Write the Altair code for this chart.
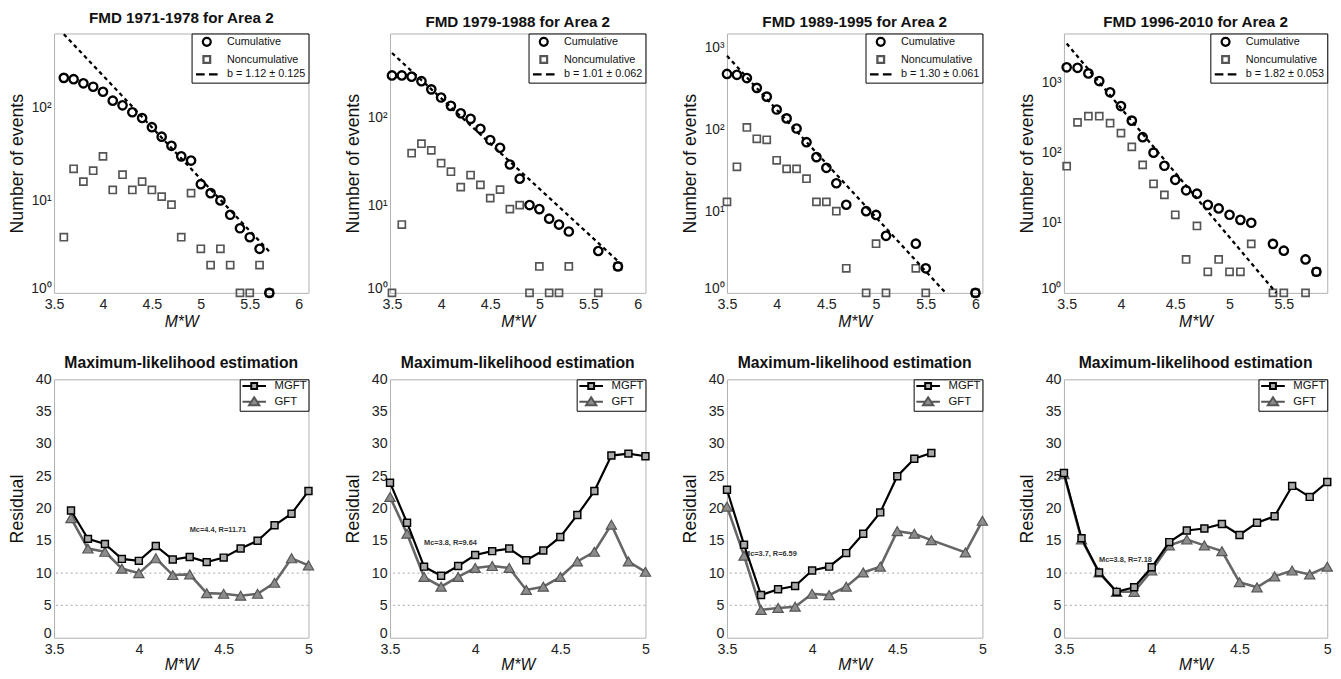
import altair as alt
import pandas as pd

FONT = "Liberation Sans"

# ---------------- top row: frequency-magnitude distributions ----------------
top_titles = ["FMD 1971-1978 for Area 2", "FMD 1979-1988 for Area 2",
              "FMD 1989-1995 for Area 2", "FMD 1996-2010 for Area 2"]
b_labels = ["b = 1.12 ± 0.125", "b = 1.01 ± 0.062", "b = 1.30 ± 0.061", "b = 1.82 ± 0.053"]

mag_1 = [3.6, 3.7, 3.8, 3.9, 4.0, 4.1, 4.2, 4.3, 4.4, 4.5, 4.6, 4.7, 4.8, 4.9, 5.0, 5.1, 5.2, 5.3, 5.4, 5.5, 5.6, 5.7]
cum_1 = [212, 205, 185, 170, 150, 120, 107, 90, 78, 62, 49, 39, 30, 27, 15, 12, 10, 7, 5, 4, 3, 1]
non_1 = [4, 22, 16, 21, 30, 13, 19, 13, 16, 13, 11, 9, 4, 12, 3, 2, 3, 2, 1, 1, 2, 1]
fit_m_1 = [3.6, 5.7]
fit_n_1 = [630, 2.8]

mag_2 = [3.5, 3.6, 3.7, 3.8, 3.9, 4.0, 4.1, 4.2, 4.3, 4.4, 4.5, 4.6, 4.7, 4.8, 4.9, 5.0, 5.1, 5.2, 5.3, 5.6, 5.8]
cum_2 = [300, 300, 290, 258, 208, 168, 135, 111, 96, 74, 55, 45, 29, 20, 10, 9, 7, 6, 5, 3, 2]
non_2 = [1, 6, 39, 50, 42, 30, 24, 16, 22, 17, 12, 15, 9, 10, 1, 2, 1, 1, 2, 1, 2]
fit_m_2 = [3.5, 5.8]
fit_n_2 = [540, 2.3]

mag_3 = [3.5, 3.6, 3.7, 3.8, 3.9, 4.0, 4.1, 4.2, 4.3, 4.4, 4.5, 4.6, 4.7, 4.9, 5.0, 5.1, 5.4, 5.5, 6.0]
cum_3 = [480, 468, 427, 324, 253, 176, 137, 103, 70, 46, 34, 22, 12, 10, 9, 5, 4, 2, 1]
non_3 = [13, 35, 106, 77, 75, 42, 33, 33, 25, 13, 13, 10, 2, 1, 4, 1, 2, 1, 1]
fit_m_3 = [3.5, 5.7]
fit_n_3 = [800, 1]

mag_4 = [3.5, 3.6, 3.7, 3.8, 3.9, 4.0, 4.1, 4.2, 4.3, 4.4, 4.5, 4.6, 4.7, 4.8, 4.9, 5.0, 5.1, 5.2, 5.4, 5.5, 5.7, 5.8]
cum_4 = [1650, 1620, 1350, 1050, 725, 462, 286, 166, 100, 65, 41, 29, 26, 18, 16, 13, 11, 10, 5, 4, 3, 2]
non_4 = [64, 270, 331, 331, 263, 190, 121, 67, 36, 25, 13, 3, 9, 2, 3, 2, 2, 5, 1, 1, 1, 2]
fit_m_4 = [3.5, 5.43]
fit_n_4 = [3600, 1]

top_x_domains = [[3.5, 6.1], [3.48, 6.08], [3.5, 6.07], [3.475, 5.9]]
top_y_domains = [[1, 640], [1, 900], [1, 1500], [1, 5000]]
top_x_ticks = [[3.5, 4, 4.5, 5, 5.5, 6]] * 3 + [[3.5, 4, 4.5, 5, 5.5]]
top_y_ticks = [[1, 10, 100], [1, 10, 100], [1, 10, 100, 1000], [1, 10, 100, 1000]]

# ---------------- bottom row: maximum-likelihood residuals ----------------
bottom_title = "Maximum-likelihood estimation"
ref_lines = [5, 10]

mag_m_5 = [3.6, 3.7, 3.8, 3.9, 4.0, 4.1, 4.2, 4.3, 4.4, 4.5, 4.6, 4.7, 4.8, 4.9, 5.0]
mgft_5 = [19.7, 15.3, 14.5, 12.2, 11.9, 14.2, 12.1, 12.5, 11.7, 12.4, 13.8, 15.0, 17.4, 19.2, 22.7]
mag_g_5 = mag_m_5
gft_5 = [18.5, 13.8, 13.3, 10.7, 10.0, 12.3, 9.7, 9.8, 6.9, 6.8, 6.5, 6.8, 8.5, 12.3, 11.2]

mag_m_6 = [3.5, 3.6, 3.7, 3.8, 3.9, 4.0, 4.1, 4.2, 4.3, 4.4, 4.5, 4.6, 4.7, 4.8, 4.9, 5.0]
mgft_6 = [24.0, 17.8, 11.0, 9.6, 11.1, 12.8, 13.4, 13.8, 12.0, 13.5, 15.6, 19.0, 22.7, 28.2, 28.5, 28.1]
mag_g_6 = mag_m_6
gft_6 = [21.8, 16.1, 9.4, 7.9, 9.4, 10.8, 11.1, 10.8, 7.4, 7.9, 9.4, 11.8, 13.3, 17.5, 11.8, 10.2]

mag_m_7 = [3.5, 3.6, 3.7, 3.8, 3.9, 4.0, 4.1, 4.2, 4.3, 4.4, 4.5, 4.6, 4.7]
mgft_7 = [22.9, 14.4, 6.6, 7.5, 8.0, 10.4, 11.0, 13.1, 16.1, 19.4, 25.0, 27.7, 28.6]
mag_g_7 = [3.5, 3.6, 3.7, 3.8, 3.9, 4.0, 4.1, 4.2, 4.3, 4.4, 4.5, 4.6, 4.7, 4.9, 5.0]
gft_7 = [20.3, 12.7, 4.3, 4.6, 4.8, 6.8, 6.6, 7.9, 10.1, 11.0, 16.5, 16.1, 15.1, 13.2, 18.1]

mag_m_8 = [3.5, 3.6, 3.7, 3.8, 3.9, 4.0, 4.1, 4.2, 4.3, 4.4, 4.5, 4.6, 4.7, 4.8, 4.9, 5.0]
mgft_8 = [25.5, 15.4, 10.1, 7.1, 7.8, 10.9, 14.8, 16.6, 16.9, 17.6, 15.9, 17.8, 18.8, 23.5, 21.8, 24.1]
mag_g_8 = mag_m_8
gft_8 = [25.3, 15.2, 10.1, 7.1, 7.1, 10.4, 14.3, 15.2, 14.3, 13.4, 8.6, 7.8, 9.5, 10.4, 9.8, 11.0]

notes = ["Mc=4.4, R=11.71", "Mc=3.8, R=9.64", "Mc=3.7, R=6.59", "Mc=3.8, R=7.18"]
note_x = [4.3, 3.7, 3.6, 3.7]
note_y = [16.7, 14.6, 12.9, 12.1]

col_widths = [259, 260, 260, 268]
TOP_H = 264
BOT_H = 263

# legend symbol paths (unit space; scaled by symbol size)
CIRCLE_P = "M1,0A1,1,0,1,1,-1,0A1,1,0,1,1,1,0Z"
SQUARE_P = "M-0.85,-0.85H0.85V0.85H-0.85Z"
DASH_P = "M-2.75,0H-0.55M0.55,0H2.75"
MGFT_P = "M-4,0H-1M1,0H4M-1,-1H1V1H-1Z"
GFT_P = "M-4,0H-0.9M0.9,0H4M0,-1.5L1.75,1.2H-1.75Z"

axis_common = dict(domain=False, ticks=False, grid=False, labelFont=FONT, labelColor="#222",
                   titleFont=FONT, titleColor="#111", titleFontWeight="normal")


def x_axis(values, label_pad, extent, title_pad):
    return alt.Axis(values=values, format=".1~f", title="M*W", titleFontStyle="italic",
                    titleFontSize=16, titlePadding=title_pad, labelFontSize=14.5, labelPadding=label_pad,
                    labelFlush=False, minExtent=extent, maxExtent=extent, **axis_common)


def y_axis(values, title, label_size, bottom_value, **kw):
    return alt.Axis(values=values, title=title, titleFontSize=18, titlePadding=3,
                    labelFontSize=label_size, labelPadding=3, minExtent=25, maxExtent=25,
                    labelBaseline={"condition": {"test": f"datum.value == {bottom_value}", "value": "alphabetic"},
                                   "value": "middle"},
                    **kw, **axis_common)


def make_title(text, size, offset):
    return alt.TitleParams(text, font=FONT, fontSize=size, fontWeight="bold", anchor="middle",
                           offset=offset, frame="group", color="#111")


def top_panel(i, mag, cum, non, fit_m, fit_n):
    n = len(mag)
    df = pd.DataFrame({"M": mag + mag, "N": cum + non,
                       "series": ["Cumulative"] * n + ["Noncumulative"] * n})
    fit = pd.DataFrame({"M": fit_m, "N": fit_n})
    x = alt.X("M:Q", scale=alt.Scale(domain=top_x_domains[i], nice=False, zero=False),
              axis=x_axis(top_x_ticks[i], 5, 20, 1))
    y = alt.Y("N:Q", scale=alt.Scale(type="log", domain=top_y_domains[i], nice=False),
              axis=y_axis(top_y_ticks[i], "Number of events", 14, 1,
                          labelExpr="datum.value == 1 ? '10⁰' : datum.value == 10 ? '10¹' : datum.value == 100 ? '10²' : '10³'"))
    base = alt.Chart(df)
    non_pts = base.transform_filter(alt.datum.series == "Noncumulative").mark_point(
        shape="square", filled=False, color="#555555", size=52, strokeWidth=1.7, opacity=1
    ).encode(x=x, y=y)
    cum_pts = base.transform_filter(alt.datum.series == "Cumulative").mark_point(
        shape="circle", filled=False, color="black", size=72, strokeWidth=2.4, opacity=1
    ).encode(x=x, y=y)
    fit_line = alt.Chart(fit).mark_line(color="black", strokeDash=[4, 3.5], strokeWidth=2.3).encode(x=x, y=y)
    dom = ["Cumulative", "Noncumulative", b_labels[i]]
    leg = alt.Legend(title=None, orient="top-right", offset=0, strokeColor="black", fillColor="white",
                     padding=3, symbolSize=64, symbolStrokeWidth=2.3, symbolOffset=7, labelOffset=15,
                     labelFontSize=11, labelFont=FONT, labelColor="#111", rowPadding=0)
    legend_layer = base.transform_filter("false").mark_point(filled=False, opacity=1).encode(
        x=x, y=y,
        shape=alt.Shape("series:N", scale=alt.Scale(domain=dom, range=[CIRCLE_P, SQUARE_P, DASH_P]), legend=leg),
        color=alt.Color("series:N", scale=alt.Scale(domain=dom, range=["black", "#555555", "black"]), legend=leg),
    )
    return alt.layer(non_pts, cum_pts, fit_line, legend_layer).properties(
        width=col_widths[i], height=TOP_H, title=make_title(top_titles[i], 15.5, 3))


def bottom_panel(i, mag_m, mgft, mag_g, gft):
    dfm = pd.DataFrame({"M": mag_m, "R": mgft, "series": ["MGFT"] * len(mag_m)})
    dfg = pd.DataFrame({"M": mag_g, "R": gft, "series": ["GFT"] * len(mag_g)})
    x = alt.X("M:Q", scale=alt.Scale(domain=[3.5, 5], nice=False, zero=False),
              axis=x_axis([3.5, 4, 4.5, 5], 5, 19, 0))
    y = alt.Y("R:Q", scale=alt.Scale(domain=[0, 40], nice=False),
              axis=y_axis(list(range(0, 45, 5)), "Residual", 14.5, 0))
    rules = alt.Chart(pd.DataFrame({"R": ref_lines})).mark_rule(
        color="#b8b8b8", strokeDash=[2, 3], strokeWidth=1.2).encode(y=y)
    note = alt.Chart(pd.DataFrame({"M": [note_x[i]], "R": [note_y[i]], "t": [notes[i]]})).mark_text(
        align="left", baseline="middle", font=FONT, fontSize=7.5, fontWeight="bold", color="#333"
    ).encode(x=x, y=y, text="t:N")
    g_line = alt.Chart(dfg).mark_line(color="#666666", strokeWidth=2.6).encode(x=x, y=y)
    g_pts = alt.Chart(dfg).mark_point(shape="triangle-up", filled=True, fill="#8c8c8c", stroke="#555555",
                                      strokeWidth=1.2, size=110, opacity=1).encode(x=x, y=y)
    m_line = alt.Chart(dfm).mark_line(color="black", strokeWidth=2.2).encode(x=x, y=y)
    m_pts = alt.Chart(dfm).mark_point(shape="square", filled=True, fill="#aaaaaa", stroke="black",
                                      strokeWidth=1.5, size=50, opacity=1).encode(x=x, y=y)
    dom = ["MGFT", "GFT"]
    leg = alt.Legend(title=None, orient="top-right", offset=0, strokeColor="black", fillColor="white",
                     padding=1, symbolSize=36, symbolStrokeWidth=2, symbolOffset=8, labelOffset=15,
                     labelFontSize=11.5, labelFont=FONT, labelColor="#111", rowPadding=0)
    legend_layer = alt.Chart(dfm).transform_filter("false").mark_point(filled=True, opacity=1).encode(
        x=x, y=y,
        shape=alt.Shape("series:N", scale=alt.Scale(domain=dom, range=[MGFT_P, GFT_P]), legend=leg),
        fill=alt.Fill("series:N", scale=alt.Scale(domain=dom, range=["#aaaaaa", "#8c8c8c"]), legend=leg),
        stroke=alt.Stroke("series:N", scale=alt.Scale(domain=dom, range=["black", "#555555"]), legend=leg),
    )
    return alt.layer(rules, note, g_line, g_pts, m_line, m_pts, legend_layer).properties(
        width=col_widths[i], height=BOT_H, title=make_title(bottom_title, 16, 1))


panels = [
    top_panel(0, mag_1, cum_1, non_1, fit_m_1, fit_n_1),
    top_panel(1, mag_2, cum_2, non_2, fit_m_2, fit_n_2),
    top_panel(2, mag_3, cum_3, non_3, fit_m_3, fit_n_3),
    top_panel(3, mag_4, cum_4, non_4, fit_m_4, fit_n_4),
    bottom_panel(0, mag_m_5, mgft_5, mag_g_5, gft_5),
    bottom_panel(1, mag_m_6, mgft_6, mag_g_6, gft_6),
    bottom_panel(2, mag_m_7, mgft_7, mag_g_7, gft_7),
    bottom_panel(3, mag_m_8, mgft_8, mag_g_8, gft_8),
]

chart = alt.concat(*panels, columns=4, spacing={"row": 24, "column": 27}).resolve_scale(
    x="independent", y="independent", color="independent", shape="independent",
    fill="independent", stroke="independent"
).properties(
    padding={"left": 8, "top": 5, "right": 5, "bottom": 5}, background="white"
).configure_view(stroke="#b0b0b0", strokeWidth=1)

chart.save("out.html", embed_options={"renderer": "svg", "actions": False})
